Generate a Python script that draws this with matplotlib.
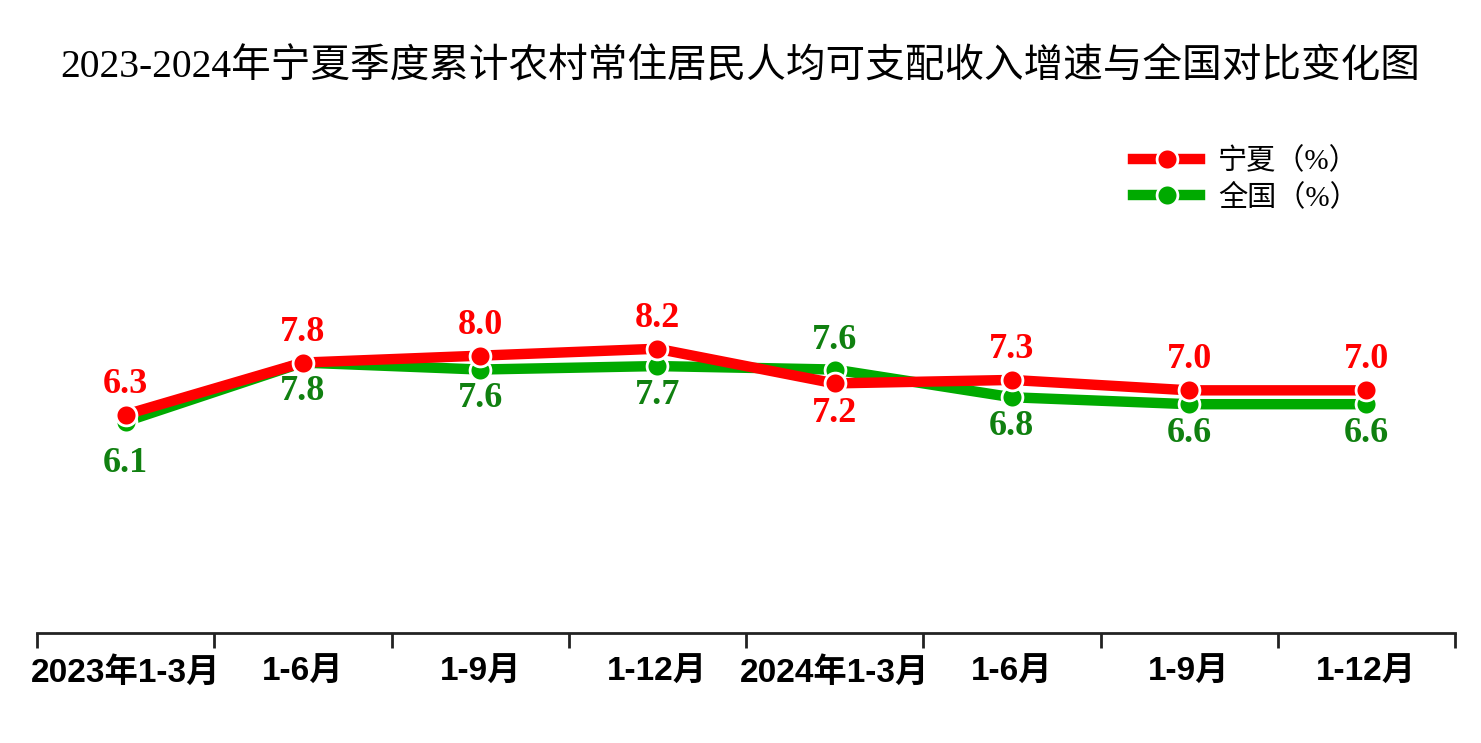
import matplotlib.pyplot as plt
from matplotlib.lines import Line2D

categories = ['2023年1-3月', '1-6月', '1-9月', '1-12月', '2024年1-3月', '1-6月', '1-9月', '1-12月']
ningxia = [6.3, 7.8, 8.0, 8.2, 7.2, 7.3, 7.0, 7.0]
national = [6.1, 7.8, 7.6, 7.7, 7.6, 6.8, 6.6, 6.6]

RED = '#FF0000'
GREEN_LINE = '#00AA00'
GREEN_TEXT = '#108010'

serif = ['Liberation Serif', 'Noto Sans CJK SC']
sans = ['Liberation Sans', 'Noto Sans CJK SC']

fig = plt.figure(figsize=(14.81, 7.43), dpi=100)
ax = fig.add_axes([37 / 1481, 1 - 633 / 743, (1455 - 37) / 1481, (633 - 113) / 743])

x = list(range(len(categories)))
ax.plot(x, national, color=GREEN_LINE, lw=7.5, marker='o', ms=15,
        markeredgecolor='white', markeredgewidth=2, zorder=3)
ax.plot(x, ningxia, color=RED, lw=7.5, marker='o', ms=15,
        markeredgecolor='white', markeredgewidth=2, zorder=4)

# data labels: red above / green below, swapped where the national value is higher
for i in x:
    red_up = ningxia[i] >= national[i]
    off = 22
    green_off = 30 if i == 0 else 21  # first green label sits lower to clear the red marker
    ax.annotate(f'{ningxia[i]:.1f}', (i, ningxia[i]), xytext=(0, off if red_up else -off),
                textcoords='offset points', ha='center', va='center',
                color=RED, fontsize=26, fontweight='bold', family=serif)
    ax.annotate(f'{national[i]:.1f}', (i, national[i]), xytext=(0, -green_off if red_up else green_off),
                textcoords='offset points', ha='center', va='center',
                color=GREEN_TEXT, fontsize=26, fontweight='bold', family=serif)

ax.set_xlim(-0.5, len(categories) - 0.5)
ax.set_ylim(0, 15)
ax.set_yticks([])
for s in ['top', 'right', 'left']:
    ax.spines[s].set_visible(False)
ax.spines['bottom'].set_linewidth(2)
ax.spines['bottom'].set_color('#222222')

ax.set_xticks([i - 0.5 for i in range(len(categories) + 1)])
ax.set_xticklabels([])
ax.tick_params(axis='x', direction='out', length=11, width=2, color='#222222')
ax.set_xticks(x, minor=True)
ax.set_xticklabels(categories, minor=True, fontsize=24, fontweight='bold', family=sans)
ax.tick_params(axis='x', which='minor', length=0, pad=17)

handles = [
    Line2D([], [], color=RED, lw=7.5, marker='o', ms=15, markeredgecolor='white', markeredgewidth=2),
    Line2D([], [], color=GREEN_LINE, lw=7.5, marker='o', ms=15, markeredgecolor='white', markeredgewidth=2),
]
leg = fig.legend(handles, ['宁夏（%）', '全国（%）'], loc='upper left',
                 bbox_to_anchor=(1107 / 1481, 1 - 121 / 743), frameon=False,
                 prop={'family': serif, 'size': 21}, handlelength=2.3, labelspacing=0.3,
                 handletextpad=0.6)

fig.text(0.5, 1 - 68 / 743, '2023-2024年宁夏季度累计农村常住居民人均可支配收入增速与全国对比变化图',
         ha='center', va='center', fontsize=28.5, family=serif)

fig.savefig('out.png', dpi=100)
